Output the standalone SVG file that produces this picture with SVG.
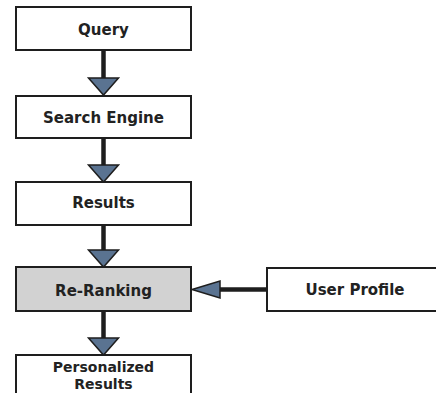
<svg xmlns="http://www.w3.org/2000/svg" width="436" height="393" viewBox="0 0 436 393">
<style>
.box{fill:#fff;stroke:#1e1e1e;stroke-width:2}
.gray{fill:#d2d2d2}
.t{font-family:"DejaVu Sans",sans-serif;font-weight:bold;font-size:15px;fill:#222;text-anchor:middle}
.s{font-size:14px}
.shaft{stroke:#1e1e1e;stroke-width:4.5;fill:none}
.head{fill:#5a7391;stroke:#1e1e1e;stroke-width:1.5;stroke-linejoin:miter}
</style>
<rect width="436" height="393" fill="#fff"/>
<g id="connectors">
<line class="shaft" x1="103.5" y1="50" x2="103.5" y2="79"/>
<polygon class="head" points="88.5,78 118.5,78 103.5,95"/>
<line class="shaft" x1="103.5" y1="138" x2="103.5" y2="166"/>
<polygon class="head" points="88.5,165 118.5,165 103.5,182"/>
<line class="shaft" x1="103.5" y1="225" x2="103.5" y2="251"/>
<polygon class="head" points="88.5,250 118.5,250 103.5,267"/>
<line class="shaft" x1="103.5" y1="311" x2="103.5" y2="339"/>
<polygon class="head" points="88.5,338 118.5,338 103.5,355"/>
<line class="shaft" x1="267" y1="289.5" x2="219" y2="289.5"/>
<polygon class="head" points="220,281 220,298 192,289.5"/>
</g>
<g id="query"><rect class="box" x="16" y="7" width="175" height="43"/><text class="t" x="103.5" y="35">Query</text></g>
<g id="search-engine"><rect class="box" x="16" y="96" width="175" height="42"/><text class="t" x="103.5" y="123">Search Engine</text></g>
<g id="results"><rect class="box" x="16" y="182" width="175" height="43"/><text class="t" x="103.5" y="208">Results</text></g>
<g id="re-ranking"><rect class="box gray" x="16" y="267" width="175" height="44"/><text class="t" x="103.5" y="296">Re-Ranking</text></g>
<g id="personalized-results"><rect class="box" x="16" y="355" width="175" height="50"/><text class="t s" x="103.5" y="372">Personalized</text><text class="t s" x="103.5" y="389">Results</text></g>
<g id="user-profile"><rect class="box" x="267" y="268" width="175" height="43"/><text class="t" x="355" y="295">User Profile</text></g>
</svg>
